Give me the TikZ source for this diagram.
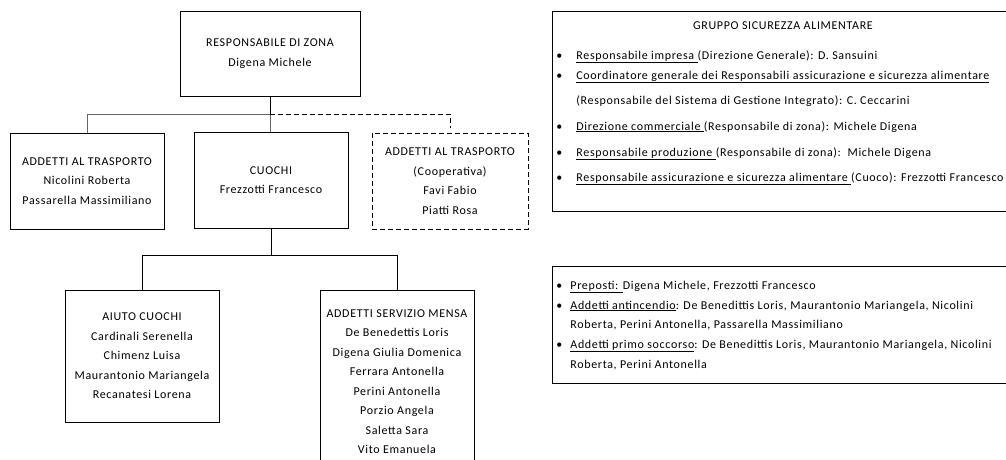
\documentclass[tikz,border=0pt]{standalone}
\usepackage{fontspec}
\setmainfont{Carlito}[LetterSpace=5.5]
\usetikzlibrary{positioning}
\newcommand{\bul}[1]{\makebox[#1][l]{\textbullet}}

\begin{document}
\begin{tikzpicture}[x=1pt,y=-1pt,line width=0.8pt,
role node/.style={rectangle,draw,align=center,inner sep=0pt,minimum width=154pt,
  font=\fontsize{12}{19.5}\selectfont},
extern node/.style={role node,dash pattern=on 5pt off 3pt},
info box/.style={rectangle,draw,anchor=north west,inner sep=0pt,minimum width=460pt},
info line/.style={anchor=base west,inner sep=0pt,font=\fontsize{12}{13}\selectfont},
link/.style={draw=black!60}]

\useasboundingbox (0,0) rectangle (1006,459);
\clip (0,0) rectangle (1006,459);

%Responsabile
\node[role node,minimum width=180pt,minimum height=85pt] (zona) at (270,53.5)
  {RESPONSABILE DI ZONA\\Digena Michele};

%Primo livello
\node[role node,minimum height=96pt] (trasp) at (87,181)
  {ADDETTI AL TRASPORTO\\Nicolini Roberta\\Passarella Massimiliano};
\node[role node,minimum height=96pt] (cuochi) at (271,180)
  {CUOCHI\\Frezzotti Francesco};
\node[extern node,minimum width=156pt,minimum height=96pt] (coop) at (450,181)
  {ADDETTI AL TRASPORTO\\(Cooperativa)\\Favi Fabio\\Piatti Rosa};

%Secondo livello
\node[role node,minimum height=132pt] (aiuto) at (142,356)
  {AIUTO CUOCHI\\Cardinali Serenella\\Chimenz Luisa\\Maurantonio Mariangela\\Recanatesi Lorena};
\node[role node,minimum height=182pt,anchor=north] (mensa) at (397,290)
  {ADDETTI SERVIZIO MENSA\\De Benedettis Loris\\Digena Giulia Domenica\\Ferrara Antonella\\Perini Antonella\\Porzio Angela\\Saletta Sara\\Vito Emanuela};

%Collegamenti
\path (zona.south) ++(0,18) coordinate (fork1);
\path (cuochi.south) ++(0,27) coordinate (fork2);
\draw (zona.south) -- (fork1);
\draw[link] (fork1) -- (fork1 |- cuochi.north);
\draw[link] (fork1) -| (trasp.north);
\draw[dash pattern=on 5pt off 3pt,shorten >=5pt] (fork1) -| (coop.north);
\draw (cuochi.south) -- (fork2);
\draw (fork2) -| (aiuto.north);
\draw (fork2) -| (mensa.north);

%Gruppo sicurezza alimentare
\node[info box,minimum height=200pt] (safety) at (552,11) {};
\node[info line,anchor=base] (safety title) at (783,29) {GRUPPO SICUREZZA ALIMENTARE};
\node[info line] (safety1) at (556,59)
  {\bul{20pt}\underline{Responsabile impresa }(Direzione Generale): D. Sansuini};
\node[info line] (safety2) at (556,79)
  {\bul{20pt}\underline{Coordinatore generale dei Responsabili assicurazione e sicurezza alimentare}};
\node[info line] (safety3) at (576,104)
  {(Responsabile del Sistema di Gestione Integrato): C. Ceccarini};
\node[info line] (safety4) at (556,130)
  {\bul{20pt}\underline{Direzione commerciale }(Responsabile di zona): Michele Digena};
\node[info line] (safety5) at (556,156)
  {\bul{20pt}\underline{Responsabile produzione }(Responsabile di zona):\ \ Michele Digena};
\node[info line] (safety6) at (556,181)
  {\bul{20pt}\underline{Responsabile assicurazione e sicurezza alimentare }(Cuoco): Frezzotti Francesco};

%Preposti e addetti
\node[info box,minimum height=117pt] (staff) at (552,266) {};
\node[info line] (staff1) at (556,289)
  {\bul{14pt}\underline{Preposti: }Digena Michele, Frezzotti Francesco};
\node[info line] (staff2) at (556,309)
  {\bul{14pt}\underline{Addetti antincendio}: De Benedittis Loris, Maurantonio Mariangela, Nicolini};
\node[info line] (staff3) at (570,328)
  {Roberta, Perini Antonella, Passarella Massimiliano};
\node[info line] (staff4) at (556,348)
  {\bul{14pt}\underline{Addetti primo soccorso}: De Benedittis Loris, Maurantonio Mariangela, Nicolini};
\node[info line] (staff5) at (570,368)
  {Roberta, Perini Antonella};
\end{tikzpicture}
\end{document}
